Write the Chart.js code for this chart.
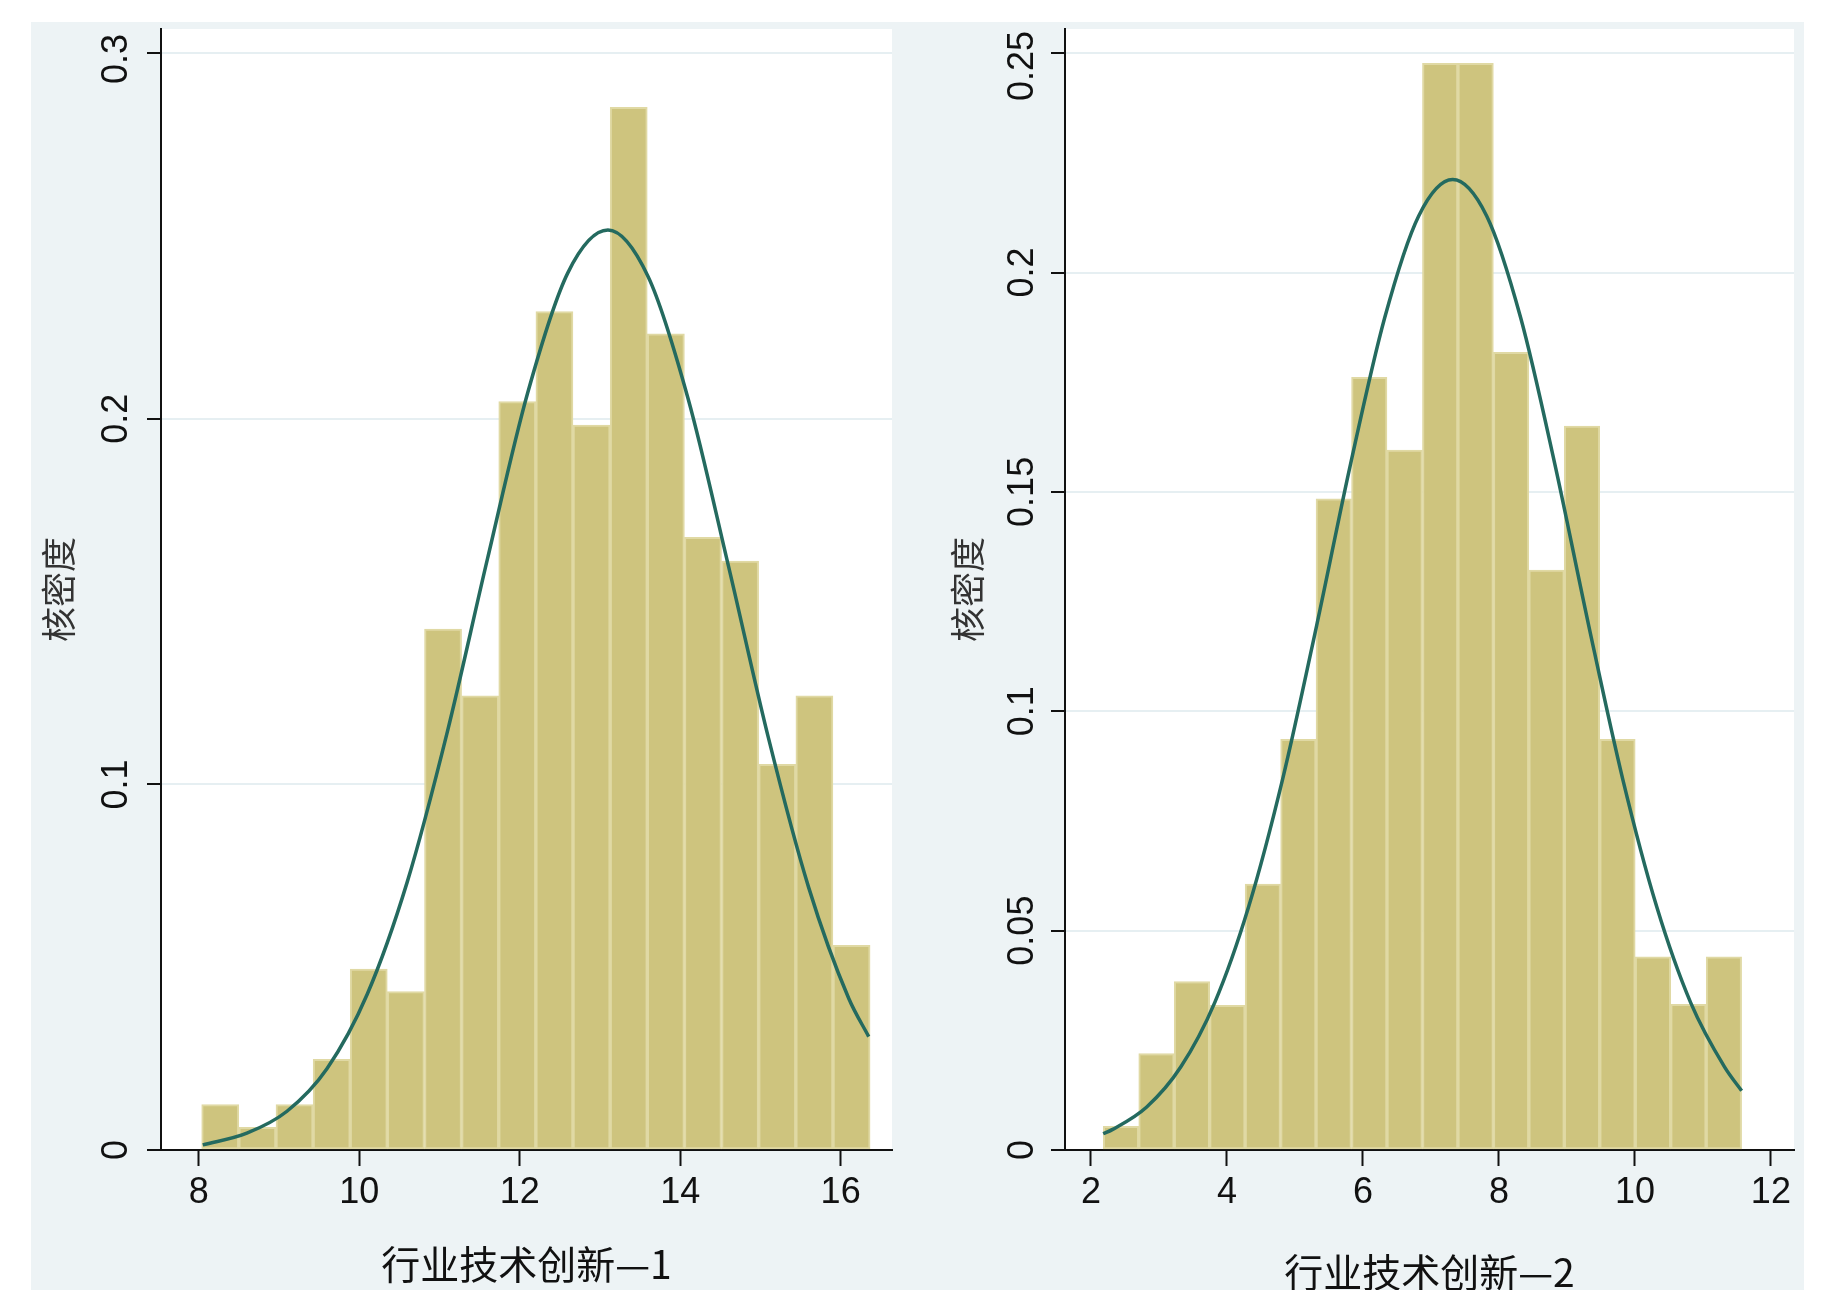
<!DOCTYPE html>
<html>
<head>
<meta charset="utf-8">
<script src="https://cdn.jsdelivr.net/npm/chart.js@4.4.1/dist/chart.umd.min.js"></script>
<style>
    html, body { margin: 0; padding: 0; background: #ffffff; }
    #fondo { position: absolute; left: 31px; top: 22px; width: 1773px; height: 1268px; background: #edf3f5; }
    #grafica1 { position: absolute; left: 0px; top: 0px; }
    #grafica2 { position: absolute; left: 904px; top: 0px; }
</style>
</head>
<body>
<div id="fondo">
    <canvas id="grafica1" width="904" height="1268"></canvas>
    <canvas id="grafica2" width="869" height="1268"></canvas>
</div>
<script>
// panel 1: 行业技术创新—1
var centros1 = [8.268, 8.731, 9.194, 9.657, 10.119, 10.582, 11.045, 11.508, 11.970, 12.433, 12.896, 13.359, 13.822, 14.284, 14.747, 15.210, 15.673, 16.136];
var densidad1 = [0.0124, 0.0062, 0.0124, 0.0248, 0.0495, 0.0433, 0.1425, 0.1242, 0.2047, 0.2293, 0.1983, 0.2852, 0.2232, 0.1676, 0.1611, 0.1055, 0.1242, 0.0560];
var curvaX1 = [8.05, 8.6, 9.1, 9.6, 10.1, 10.6, 11.1, 11.6, 12.1, 12.6, 13.1, 13.6, 14.1, 14.6, 15.1, 15.6, 16.1, 16.35];
var curvaY1 = [0.0014, 0.0046, 0.0106, 0.0223, 0.0426, 0.0734, 0.1145, 0.1618, 0.2071, 0.2399, 0.2516, 0.2389, 0.2054, 0.1599, 0.1127, 0.0719, 0.0415, 0.0310];
var ticksX1 = [8, 10, 12, 14, 16];
var ticksY1 = [0, 0.1, 0.2, 0.3];
var textosY1 = ['0', '0.1', '0.2', '0.3'];

// panel 2: 行业技术创新—2
var centros2 = [2.442, 2.963, 3.485, 4.006, 4.528, 5.050, 5.571, 6.093, 6.614, 7.136, 7.658, 8.179, 8.701, 9.222, 9.744, 10.266, 10.787, 11.309];
var densidad2 = [0.0054, 0.0220, 0.0384, 0.0330, 0.0606, 0.0936, 0.1484, 0.1761, 0.1595, 0.2477, 0.2477, 0.1818, 0.1322, 0.1650, 0.0936, 0.0440, 0.0332, 0.0440];
var curvaX2 = [2.18, 2.32, 2.82, 3.32, 3.82, 4.32, 4.82, 5.32, 5.82, 6.32, 6.82, 7.32, 7.82, 8.32, 8.82, 9.32, 9.82, 10.32, 10.82, 11.32, 11.57];
var curvaY2 = [0.0037, 0.0047, 0.0098, 0.0189, 0.0336, 0.0555, 0.0846, 0.1196, 0.1565, 0.1897, 0.2129, 0.2212, 0.2129, 0.1897, 0.1565, 0.1196, 0.0846, 0.0555, 0.0336, 0.0189, 0.0135];
var ticksX2 = [2, 4, 6, 8, 10, 12];
var ticksY2 = [0, 0.05, 0.1, 0.15, 0.2, 0.25];
var textosY2 = ['0', '0.05', '0.1', '0.15', '0.2', '0.25'];

var tituloY = '核密度';

// fondo blanco del area de trazado
var fondoBlanco = {
    id: 'fondoBlanco',
    beforeDraw: function (chart) {
        var a = chart.chartArea;
        var ctx = chart.ctx;
        ctx.save();
        ctx.fillStyle = '#ffffff';
        ctx.fillRect(a.left, a.top, a.right - a.left, a.bottom - a.top);
        ctx.restore();
    }
};

// etiquetas del eje y giradas (estilo Stata)
var etiquetasY = {
    id: 'etiquetasY',
    afterDraw: function (chart, args, opts) {
        var esc = chart.scales.y;
        var ctx = chart.ctx;
        ctx.save();
        ctx.font = '36px "Liberation Sans", Arial, sans-serif';
        ctx.fillStyle = '#111111';
        ctx.textAlign = 'center';
        ctx.textBaseline = 'middle';
        for (var i = 0; i < opts.valores.length; i++) {
            var y = esc.getPixelForValue(opts.valores[i]);
            var mitad = ctx.measureText(opts.textos[i]).width / 2;
            // que no se salga por arriba del recuadro
            if (y - mitad < opts.margen) {
                y = opts.margen + mitad;
            }
            ctx.save();
            ctx.translate(opts.x, y);
            ctx.rotate(-Math.PI / 2);
            ctx.fillText(opts.textos[i], 0, 0);
            ctx.restore();
        }
        ctx.restore();
    }
};

function puntos(xs, ys) {
    var res = [];
    for (var i = 0; i < xs.length; i++) {
        res.push({ x: xs[i], y: ys[i] });
    }
    return res;
}

function crearGrafica(id, p) {
    return new Chart(document.getElementById(id).getContext('2d'), {
        type: 'bar',
        data: {
            datasets: [{
                type: 'line',
                data: puntos(p.curvaX, p.curvaY),
                borderColor: '#246a5f',
                borderWidth: 3.5,
                pointRadius: 0,
                cubicInterpolationMode: 'monotone',
                fill: false,
                order: 0
            }, {
                type: 'bar',
                data: puntos(p.centros, p.densidad),
                backgroundColor: '#cec47e',
                borderColor: '#e0d9a4',
                borderWidth: 2,
                borderSkipped: false,
                barPercentage: 1.0,
                categoryPercentage: 1.0,
                order: 1
            }]
        },
        options: {
            responsive: false,
            animation: false,
            events: [],
            layout: { padding: { left: 0, right: p.padDer, top: 7, bottom: 0 } },
            plugins: {
                legend: { display: false },
                tooltip: { enabled: false },
                etiquetasY: { valores: p.ticksY, textos: p.textosY, x: p.xEtiquetas, margen: p.margenY }
            },
            scales: {
                x: {
                    type: 'linear',
                    min: p.xMin,
                    max: p.xMax,
                    offset: false,
                    afterBuildTicks: function (scale) {
                        scale.ticks = p.ticksX.map(function (v) { return { value: v }; });
                    },
                    afterFit: function (scale) { scale.height = 140; },
                    ticks: {
                        color: '#111111',
                        font: { family: '"Liberation Sans", Arial, sans-serif', size: 36 },
                        padding: 5,
                        maxRotation: 0,
                        callback: function (v) { return String(v); }
                    },
                    grid: { display: true, drawOnChartArea: false, drawTicks: true, tickLength: 16, tickColor: '#111111', tickWidth: 2, offset: false },
                    border: { display: true, color: '#111111', width: 2 },
                    title: {
                        display: true,
                        text: p.tituloX,
                        color: '#111111',
                        font: { family: '"Noto Sans CJK SC", sans-serif', size: 39 },
                        padding: { top: 0, bottom: p.padTituloX }
                    }
                },
                y: {
                    type: 'linear',
                    min: 0,
                    max: p.yMax,
                    afterBuildTicks: function (scale) {
                        scale.ticks = p.ticksY.map(function (v) { return { value: v }; });
                    },
                    afterFit: function (scale) { scale.width = 130; },
                    ticks: { display: false },
                    grid: { color: '#e6eff2', lineWidth: 2, drawTicks: true, tickLength: 14, tickColor: '#111111', tickWidth: 2 },
                    border: { display: true, color: '#111111', width: 2 },
                    title: {
                        display: true,
                        text: tituloY,
                        color: '#333333',
                        font: { family: '"Noto Sans CJK SC", sans-serif', size: 35 },
                        padding: { top: p.padTituloY, bottom: 0 }
                    }
                }
            }
        },
        plugins: [fondoBlanco, etiquetasY]
    });
}

crearGrafica('grafica1', {
    centros: centros1, densidad: densidad1, curvaX: curvaX1, curvaY: curvaY1,
    ticksX: ticksX1, ticksY: ticksY1, textosY: textosY1,
    xMin: 7.53, xMax: 16.64, yMax: 0.3066,
    tituloX: '行业技术创新—1',
    padDer: 43, padTituloX: 2, padTituloY: 7, xEtiquetas: 86, margenY: 12
});

crearGrafica('grafica2', {
    centros: centros2, densidad: densidad2, curvaX: curvaX2, curvaY: curvaY2,
    ticksX: ticksX2, ticksY: ticksY2, textosY: textosY2,
    xMin: 1.618, xMax: 12.34, yMax: 0.2555,
    tituloX: '行业技术创新—2',
    padDer: 10, padTituloX: -6, padTituloY: 12, xEtiquetas: 88, margenY: 9
});
</script>
</body>
</html>
